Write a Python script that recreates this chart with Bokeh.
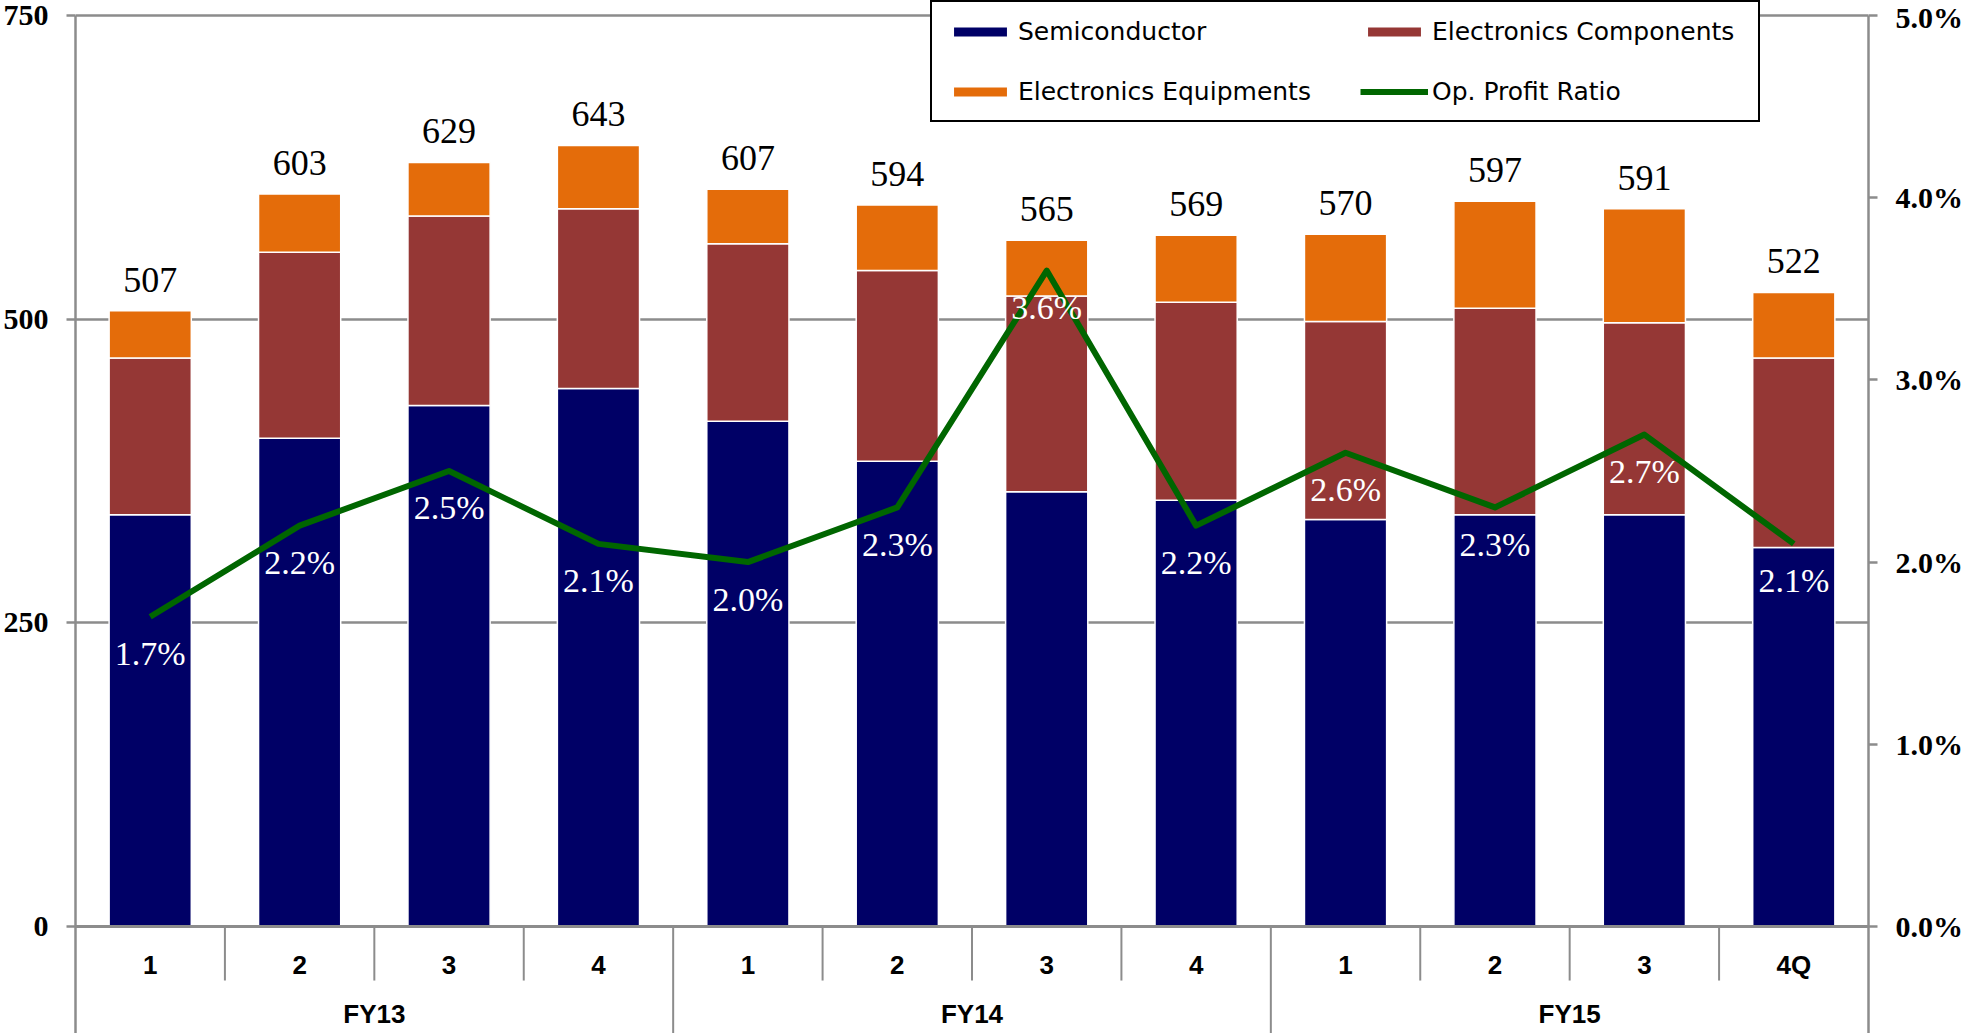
from bokeh.plotting import figure
from bokeh.models import (FactorRange, Range1d, LinearAxis, FixedTicker,
                          PrintfTickFormatter, ColumnDataSource, Span,
                          Legend, LegendItem)
from bokeh.transform import dodge
from bokeh.core.properties import value
from bokeh.embed import file_html
from bokeh.resources import INLINE

# ---- data -----------------------------------------------------------------
fiscal_years = ["FY13", "FY14", "FY15"]
quarters = ["1", "2", "3", "4", "1", "2", "3", "4", "1", "2", "3", "4Q"]
totals = [507, 603, 629, 643, 607, 594, 565, 569, 570, 597, 591, 522]
semiconductor = [339, 402, 429, 443, 416, 383, 358, 351, 335, 339, 339, 312]
components = [129, 153, 156, 148, 146, 157, 161, 163, 163, 170, 158, 156]
equipments = [39, 48, 44, 52, 45, 54, 46, 55, 72, 88, 94, 54]
op_profit_ratio = [1.7, 2.2, 2.5, 2.1, 2.0, 2.3, 3.6, 2.2, 2.6, 2.3, 2.7, 2.1]

sales_ticks = [0, 250, 500, 750]
ratio_ticks = [0, 1, 2, 3, 4, 5]

SEMI_COLOR = "#000066"
COMP_COLOR = "#953735"
EQUIP_COLOR = "#E46C0A"
LINE_COLOR = "#006600"
GRID_COLOR = "#8c8c8c"

# ---- sources ----------------------------------------------------------------
factors = [(fiscal_years[i // 4], q) for i, q in enumerate(quarters)]

src = ColumnDataSource(dict(
    x=factors,
    quarter=quarters,
    semiconductor=semiconductor,
    components=components,
    equipments=equipments,
    totals=totals,
    total_label=[str(t) for t in totals],
    op_ratio=op_profit_ratio,
    op_label=["%.1f%%" % v for v in op_profit_ratio],
))

# The frame spans the whole page height: a little headroom above the top
# tick (for the legend box) and room below zero for the category labels.
y_low = -88.1
y_high = 762.35
ratio_per_unit = ratio_ticks[-1] / sales_ticks[-1]

p = figure(
    x_range=FactorRange(*factors, factor_padding=0, group_padding=0,
                        subgroup_padding=0, range_padding=0),
    y_range=Range1d(y_low, y_high),
    width=1966, height=1033,
    min_border_left=74, min_border_right=98,
    min_border_top=0, min_border_bottom=0,
    x_axis_location=None,
    output_backend="svg", toolbar_location=None,
)
p.outline_line_color = None
p.xgrid.visible = False
p.ygrid.ticker = FixedTicker(ticks=sales_ticks[1:])
p.ygrid.grid_line_color = GRID_COLOR
p.ygrid.grid_line_width = 2.5


def style_axis(ax):
    ax.axis_line_color = GRID_COLOR
    ax.axis_line_width = 2.5
    ax.major_tick_line_color = GRID_COLOR
    ax.major_tick_line_width = 2.5
    ax.major_tick_out = 9
    ax.major_tick_in = 0
    ax.minor_tick_line_color = None
    ax.major_label_standoff = 18
    ax.major_label_text_font = "Liberation Serif"
    ax.major_label_text_font_style = "bold"
    ax.major_label_text_font_size = "30px"
    ax.major_label_text_color = "black"


# left axis: sales (line stops at the top tick)
yax = p.yaxis[0]
yax.ticker = FixedTicker(ticks=sales_ticks)
yax.bounds = (y_low, sales_ticks[-1])
style_axis(yax)

# right axis: operating profit ratio
p.extra_y_ranges = {"pct": Range1d(y_low * ratio_per_unit,
                                   y_high * ratio_per_unit)}
rax = LinearAxis(y_range_name="pct", ticker=FixedTicker(ticks=ratio_ticks),
                 formatter=PrintfTickFormatter(format="%.1f%%"),
                 bounds=(y_low * ratio_per_unit, ratio_ticks[-1]))
style_axis(rax)
p.add_layout(rax, "right")

# stacked bars
bars = p.vbar_stack(["semiconductor", "components", "equipments"], x="x",
                    width=0.55, source=src,
                    fill_color=[SEMI_COLOR, COMP_COLOR, EQUIP_COLOR],
                    line_color="white", line_width=1.5)

# baseline
p.add_layout(Span(location=0, dimension="width", line_color=GRID_COLOR,
                  line_width=3))

# operating profit ratio line
ratio_line = p.line(x="x", y="op_ratio", source=src, y_range_name="pct",
                    line_color=LINE_COLOR, line_width=6, line_join="round")

# value labels
p.text(x="x", y="totals", text="total_label", source=src,
       text_font=value("Liberation Serif"), text_font_size="36px",
       text_color="black", text_align="center", text_baseline="alphabetic",
       y_offset=-31)
p.text(x="x", y="op_ratio", text="op_label", source=src, y_range_name="pct",
       text_font=value("Liberation Serif"), text_font_size="34px",
       text_color="white", text_align="center", text_baseline="alphabetic",
       y_offset=37)

# category axis: separators, quarter labels and fiscal-year labels
sep_y = [y_low if i % 4 == 0 else -44.5 for i in range(1, 12)]
sep_src = ColumnDataSource(dict(x=factors[1:], y1=sep_y))
left_edge = dodge("x", -0.5, range=p.x_range)
p.segment(x0=left_edge, y0=0, x1=left_edge, y1="y1", source=sep_src,
          line_color=GRID_COLOR, line_width=2)

p.text(x="x", y=-32.1, text="quarter", source=src,
       text_font=value("Liberation Sans"), text_font_style="bold",
       text_font_size="26px", text_color="black", text_align="center",
       text_baseline="middle")

fy_src = ColumnDataSource(dict(x=fiscal_years, label=fiscal_years))
p.text(x="x", y=-72.4, text="label", source=fy_src,
       text_font=value("Liberation Sans"), text_font_style="bold",
       text_font_size="26px", text_color="black", text_align="center",
       text_baseline="middle")

# legend
legend = Legend(
    items=[
        LegendItem(label="Semiconductor", renderers=[bars[0]]),
        LegendItem(label="Electronics Components", renderers=[bars[1]]),
        LegendItem(label="Electronics Equipments", renderers=[bars[2]]),
        LegendItem(label="Op. Profit Ratio", renderers=[ratio_line]),
    ],
    location=(855, 911), orientation="horizontal", ncols=2,
    glyph_width=68, glyph_height=13, label_standoff=4,
    label_height=30, label_width=312, padding=14, spacing=30, margin=0,
    label_text_font="DejaVu Sans", label_text_font_size="25px",
    label_text_color="black",
    border_line_color="black", border_line_width=2.5, border_line_alpha=1.0,
    background_fill_color="white", background_fill_alpha=1.0,
)
p.add_layout(legend)

open("out.html", "w").write(file_html(p, INLINE))
